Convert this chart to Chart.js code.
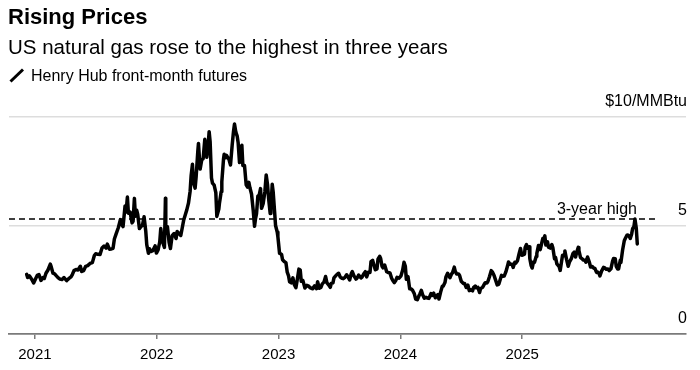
<!DOCTYPE html>
<html><head><meta charset="utf-8">
<script src="https://cdn.jsdelivr.net/npm/chart.js@4/dist/chart.umd.min.js"></script>
<style>
html,body{margin:0;padding:0;background:#fff;}
#wrap{position:relative;width:700px;height:370px;overflow:hidden;font-family:'Liberation Sans',Arial,sans-serif;color:#000;}
#title{position:absolute;left:8px;top:6px;font-size:22px;line-height:22px;font-weight:bold;white-space:nowrap;}
#subtitle{position:absolute;left:8px;top:36.7px;font-size:20.5px;line-height:20.5px;white-space:nowrap;}
#legend{position:absolute;left:31px;top:67.5px;font-size:16px;line-height:16px;white-space:nowrap;}
#legicon{position:absolute;left:9px;top:68px;}
#c{position:absolute;left:0;top:0;}
</style></head>
<body>
<div id="wrap">
<canvas id="c" width="700" height="370"></canvas>
<div id="title">Rising Prices</div>
<div id="subtitle">US natural gas rose to the highest in three years</div>
<svg id="legicon" width="16" height="15"><line x1="1.5" y1="13.5" x2="14" y2="1.5" stroke="#000" stroke-width="3"/></svg>
<div id="legend">Henry Hub front-month futures</div>
</div>
<script>
const seriesName = 'Henry Hub front-month futures';
const dates = [
'2020-12-07','2020-12-10','2020-12-15','2020-12-18','2020-12-23','2020-12-28',
'2021-01-04','2021-01-08','2021-01-13','2021-01-19','2021-01-25','2021-01-29',
'2021-02-03','2021-02-09','2021-02-16','2021-02-19','2021-02-24',
'2021-03-01','2021-03-05','2021-03-11','2021-03-17','2021-03-23','2021-03-29',
'2021-04-06','2021-04-12','2021-04-19','2021-04-23','2021-04-28',
'2021-05-04','2021-05-10','2021-05-17','2021-05-21','2021-05-27',
'2021-06-02','2021-06-08','2021-06-15','2021-06-22','2021-06-28',
'2021-07-02','2021-07-09','2021-07-15','2021-07-21','2021-07-27',
'2021-08-02','2021-08-06','2021-08-12','2021-08-18','2021-08-23','2021-08-27',
'2021-09-01','2021-09-08','2021-09-14','2021-09-17','2021-09-22','2021-09-28',
'2021-10-01','2021-10-05','2021-10-08','2021-10-13','2021-10-19','2021-10-22','2021-10-26','2021-10-29',
'2021-11-02','2021-11-05','2021-11-10','2021-11-16','2021-11-19','2021-11-24','2021-11-29',
'2021-12-02','2021-12-07','2021-12-10','2021-12-15','2021-12-20','2021-12-27','2021-12-31',
'2022-01-05','2022-01-10','2022-01-13','2022-01-18','2022-01-24','2022-01-27','2022-01-28',
'2022-02-02','2022-02-07','2022-02-11','2022-02-16','2022-02-22','2022-02-28',
'2022-03-03','2022-03-08','2022-03-14','2022-03-18','2022-03-23','2022-03-28',
'2022-04-01','2022-04-06','2022-04-11','2022-04-14','2022-04-18','2022-04-21','2022-04-26','2022-04-29',
'2022-05-04','2022-05-06','2022-05-11','2022-05-16','2022-05-20','2022-05-25','2022-05-31',
'2022-06-03','2022-06-07','2022-06-10','2022-06-14','2022-06-17','2022-06-22','2022-06-27','2022-06-30',
'2022-07-06','2022-07-08','2022-07-13','2022-07-15','2022-07-20','2022-07-22','2022-07-27','2022-07-29',
'2022-08-03','2022-08-05','2022-08-10','2022-08-15','2022-08-19','2022-08-22','2022-08-26','2022-08-30',
'2022-09-02','2022-09-06','2022-09-13','2022-09-16','2022-09-21','2022-09-26','2022-09-30',
'2022-10-04','2022-10-07','2022-10-12','2022-10-17','2022-10-21','2022-10-24','2022-10-27','2022-10-31',
'2022-11-04','2022-11-08','2022-11-11','2022-11-16','2022-11-21','2022-11-25','2022-11-29',
'2022-12-02','2022-12-07','2022-12-09','2022-12-13','2022-12-16','2022-12-20','2022-12-23','2022-12-28','2022-12-30',
'2023-01-04','2023-01-06','2023-01-10','2023-01-13','2023-01-18','2023-01-23','2023-01-27','2023-01-31',
'2023-02-03','2023-02-08','2023-02-13','2023-02-17','2023-02-22','2023-02-27',
'2023-03-03','2023-03-07','2023-03-10','2023-03-15','2023-03-21','2023-03-27','2023-03-31',
'2023-04-05','2023-04-12','2023-04-14','2023-04-19','2023-04-25','2023-04-28',
'2023-05-03','2023-05-08','2023-05-12','2023-05-17','2023-05-22','2023-05-26','2023-05-31',
'2023-06-05','2023-06-08','2023-06-13','2023-06-16','2023-06-21','2023-06-26','2023-06-30',
'2023-07-05','2023-07-10','2023-07-14','2023-07-19','2023-07-24','2023-07-28',
'2023-08-02','2023-08-07','2023-08-10','2023-08-15','2023-08-21','2023-08-24','2023-08-29',
'2023-09-05','2023-09-08','2023-09-13','2023-09-18','2023-09-22','2023-09-27',
'2023-10-02','2023-10-05','2023-10-10','2023-10-13','2023-10-18','2023-10-23','2023-10-26','2023-10-31',
'2023-11-03','2023-11-07','2023-11-10','2023-11-15','2023-11-21','2023-11-28',
'2023-12-01','2023-12-06','2023-12-11','2023-12-14','2023-12-19','2023-12-22','2023-12-28',
'2024-01-03','2024-01-08','2024-01-12','2024-01-16','2024-01-19','2024-01-24','2024-01-29',
'2024-02-02','2024-02-07','2024-02-12','2024-02-16','2024-02-21','2024-02-26','2024-02-29',
'2024-03-04','2024-03-08','2024-03-13','2024-03-18','2024-03-22','2024-03-27',
'2024-04-02','2024-04-05','2024-04-10','2024-04-15','2024-04-18','2024-04-23','2024-04-26',
'2024-05-01','2024-05-06','2024-05-09','2024-05-14','2024-05-17','2024-05-22','2024-05-29',
'2024-06-03','2024-06-06','2024-06-11','2024-06-14','2024-06-18','2024-06-24','2024-06-27',
'2024-07-02','2024-07-08','2024-07-12','2024-07-17','2024-07-22','2024-07-26','2024-07-31',
'2024-08-05','2024-08-08','2024-08-13','2024-08-16','2024-08-21','2024-08-26','2024-08-29',
'2024-09-04','2024-09-09','2024-09-12','2024-09-17','2024-09-20','2024-09-25','2024-09-30',
'2024-10-04','2024-10-09','2024-10-14','2024-10-18','2024-10-23','2024-10-28','2024-10-31',
'2024-11-04','2024-11-08','2024-11-13','2024-11-18','2024-11-21','2024-11-26',
'2024-12-02','2024-12-05','2024-12-10','2024-12-13','2024-12-18','2024-12-23','2024-12-27','2024-12-31',
'2025-01-03','2025-01-08','2025-01-10','2025-01-14','2025-01-17','2025-01-22','2025-01-24','2025-01-28','2025-01-31',
'2025-02-04','2025-02-07','2025-02-12','2025-02-14','2025-02-19','2025-02-24','2025-02-27',
'2025-03-04','2025-03-07','2025-03-10','2025-03-13','2025-03-18','2025-03-21','2025-03-26','2025-03-31',
'2025-04-03','2025-04-08','2025-04-11','2025-04-15','2025-04-22','2025-04-25','2025-04-29',
'2025-05-02','2025-05-07','2025-05-09','2025-05-14','2025-05-19','2025-05-23','2025-05-28',
'2025-06-02','2025-06-06','2025-06-10','2025-06-13','2025-06-18','2025-06-20','2025-06-25','2025-06-30',
'2025-07-03','2025-07-08','2025-07-11','2025-07-16','2025-07-21','2025-07-25','2025-07-30',
'2025-08-04','2025-08-07','2025-08-12','2025-08-15','2025-08-20','2025-08-22','2025-08-27',
'2025-09-02','2025-09-05','2025-09-10','2025-09-15','2025-09-19','2025-09-24','2025-09-29',
'2025-10-02','2025-10-07','2025-10-10','2025-10-14','2025-10-17','2025-10-22','2025-10-24','2025-10-29',
'2025-11-03','2025-11-06','2025-11-11','2025-11-14','2025-11-18','2025-11-21','2025-11-25','2025-11-28',
'2025-12-02','2025-12-05','2025-12-09','2025-12-12'
];
const prices = [
2.75,2.60,2.68,2.62,2.50,2.35,
2.58,2.70,2.74,2.47,2.60,2.56,
2.80,2.95,3.22,3.08,2.80,
2.77,2.70,2.60,2.53,2.51,2.60,
2.46,2.55,2.63,2.74,2.92,
2.97,2.95,3.12,2.88,2.92,
3.12,3.15,3.25,3.29,3.62,
3.70,3.67,3.66,3.96,4.05,
3.96,4.14,3.91,3.92,3.95,4.38,
4.60,4.91,5.27,5.07,4.95,5.90,
5.62,6.31,5.57,5.62,5.12,5.19,6.25,5.43,
5.70,5.51,4.86,4.97,5.00,5.40,4.75,
4.12,3.72,3.93,3.80,3.84,4.06,3.73,
3.87,4.25,4.86,4.27,3.99,6.26,4.64,
4.95,4.22,3.94,4.53,4.63,4.40,
4.72,4.64,4.54,4.86,5.27,5.52,
5.72,6.03,6.58,7.30,7.82,6.98,6.72,7.24,
8.42,8.78,7.60,8.04,8.08,8.97,8.14,
8.52,9.32,8.85,7.19,6.95,6.86,6.52,5.42,
5.76,6.04,6.55,7.02,8.05,8.28,8.13,8.23,
8.10,8.06,7.79,8.70,9.33,9.68,9.30,9.12,
8.80,7.90,8.70,7.77,7.76,6.87,6.77,
6.99,6.75,6.45,5.71,4.96,5.32,5.55,6.35,
6.40,6.70,5.79,6.02,6.56,7.33,6.88,
6.28,5.55,5.78,6.90,6.53,5.66,5.00,4.70,4.48,
3.72,3.71,3.67,3.42,3.34,3.29,2.85,2.68,
2.41,2.36,2.59,2.28,2.13,2.59,
2.99,2.94,2.43,2.46,2.12,2.24,2.22,
2.14,2.09,2.11,2.22,2.09,2.41,
2.11,2.15,2.31,2.39,2.65,2.36,2.27,
2.15,2.33,2.36,2.59,2.68,2.76,2.80,
2.62,2.57,2.55,2.61,2.73,2.64,
2.49,2.79,2.88,2.68,2.53,2.57,2.72,
2.58,2.62,2.76,2.87,2.63,2.85,
2.84,3.33,3.39,3.23,2.96,3.00,3.45,3.58,
3.48,3.12,3.05,3.18,2.87,2.82,
2.81,2.56,2.43,2.37,2.49,2.61,2.57,
2.68,2.95,3.31,3.12,2.52,2.64,2.08,
2.08,2.01,1.85,1.61,1.58,1.76,1.86,
2.01,1.81,1.65,1.69,1.66,1.64,
1.86,1.78,1.88,1.67,1.75,1.82,1.61,
1.93,2.20,2.21,2.37,2.63,2.80,2.59,
2.77,2.83,3.08,2.89,2.77,2.77,2.70,
2.43,2.33,2.33,2.14,2.25,2.00,2.04,
1.99,2.14,2.21,2.13,2.15,1.91,2.09,
2.15,2.29,2.36,2.35,2.42,2.65,2.92,
2.85,2.68,2.45,2.26,2.30,2.56,2.70,
2.66,2.67,2.86,3.13,3.32,3.21,
3.21,3.07,3.31,3.27,3.38,3.71,3.94,3.63,
3.64,3.68,3.99,4.12,3.95,4.02,3.47,3.15,3.04,
3.32,3.31,3.57,3.72,4.08,3.89,4.08,
4.40,4.39,4.52,4.10,4.25,4.00,3.96,4.12,
3.97,3.47,3.53,3.23,3.10,2.93,3.33,
3.63,3.61,3.83,3.44,3.12,3.33,3.46,
3.70,3.77,3.55,3.74,3.99,3.85,3.52,3.46,
3.41,3.40,3.31,3.55,3.33,3.09,3.11,
3.03,3.02,2.84,2.86,2.77,2.68,2.90,
3.07,3.06,2.98,3.00,2.92,3.00,3.36,
3.48,3.47,3.11,3.00,3.00,3.40,3.30,3.87,
4.30,4.40,4.55,4.56,4.50,4.40,4.60,4.85,
4.95,5.30,4.87,4.15
];
const threeYearHigh = 5.3;
const threeYearHighLabel = '3-year high';
const highLineEndDate = '2026-02-05';
const xAxisStartDate = '2020-10-15';
const xAxisEndDate = '2026-05-07';
const yearTicks = [2021, 2022, 2023, 2024, 2025];
const priceTicks = [0, 5, 10];
const priceTickLabels = ['0', '5', '$10/MMBtu'];

function toYear(s) {
  const [y, m, d] = s.split('-').map(Number);
  const t = Date.UTC(y, m - 1, d), t0 = Date.UTC(y, 0, 1), t1 = Date.UTC(y + 1, 0, 1);
  return y + (t - t0) / (t1 - t0);
}
const FONT = "'Liberation Sans', Arial, sans-serif";
const points = dates.map((d, i) => ({ x: toYear(d), y: prices[i] }));
const xMin = toYear(xAxisStartDate), xMax = toYear(xAxisEndDate);
const peakIndex = prices.indexOf(Math.max(...prices.slice(prices.length - 10)));

const highLabelPlugin = {
  id: 'highLabel',
  afterDatasetsDraw(chart) {
    const { ctx, scales } = chart;
    const x = scales.x.getPixelForValue(points[peakIndex].x) + 2;
    const y = scales.y.getPixelForValue(threeYearHigh) - 5;
    ctx.save();
    ctx.font = '16px ' + FONT;
    ctx.fillStyle = '#000';
    ctx.textAlign = 'right';
    ctx.textBaseline = 'alphabetic';
    ctx.fillText(threeYearHighLabel, x, y);
    ctx.restore();
  }
};

new Chart(document.getElementById('c'), {
  type: 'line',
  data: {
    datasets: [
      { label: seriesName, data: points, borderColor: '#000', borderWidth: 3.5, pointRadius: 0, tension: 0,
        borderJoinStyle: 'round', borderCapStyle: 'round', order: 0 },
      { label: threeYearHighLabel, data: [{ x: xMin, y: threeYearHigh }, { x: toYear(highLineEndDate), y: threeYearHigh }],
        borderColor: '#000', borderWidth: 1.4, borderDash: [6, 4], pointRadius: 0, order: 1 }
    ]
  },
  options: {
    responsive: false,
    animation: false,
    events: [],
    layout: { padding: { top: 117, left: 9, right: 12, bottom: -1 } },
    plugins: { legend: { display: false }, tooltip: { enabled: false } },
    scales: {
      x: {
        type: 'linear', min: xMin, max: xMax,
        afterBuildTicks: s => { s.ticks = yearTicks.map(v => ({ value: v })); },
        ticks: { callback: v => String(v), color: '#000', font: { family: FONT, size: 15 }, padding: 7, maxRotation: 0, autoSkip: false },
        grid: { drawOnChartArea: false, drawTicks: true, tickLength: 5, color: '#7a7a7a', lineWidth: 1.5 },
        border: { display: true, color: '#7a7a7a', width: 1.8 }
      },
      y: {
        type: 'linear', position: 'right', min: 0, max: 10,
        afterBuildTicks: s => { s.ticks = priceTicks.map(v => ({ value: v })); },
        ticks: { mirror: true, padding: 1, labelOffset: -15, color: '#000', font: { family: FONT, size: 16 },
          callback: v => priceTickLabels[priceTicks.indexOf(v)] },
        grid: { drawTicks: false, color: c => c.tick && c.tick.value === 0 ? 'rgba(0,0,0,0)' : '#dddddd', lineWidth: 1.4 },
        border: { display: false }
      }
    }
  },
  plugins: [highLabelPlugin]
});
</script>
</body></html>
